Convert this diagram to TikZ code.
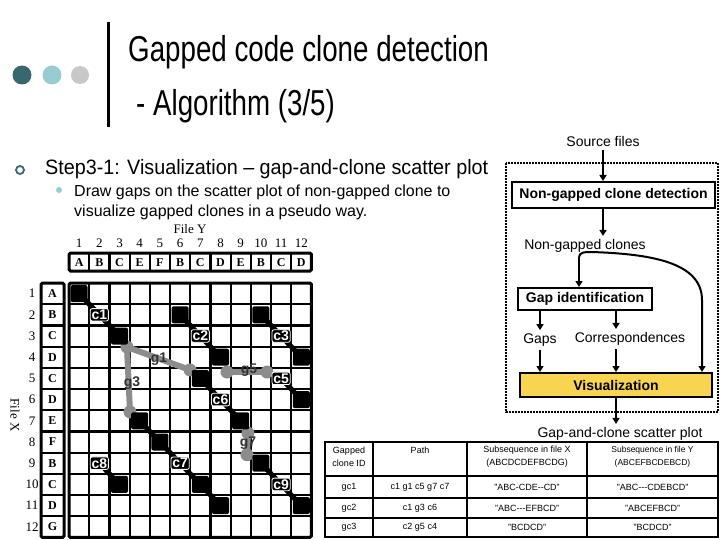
\documentclass[tikz,border=0pt]{standalone}
\usepackage{fontspec}
\setmainfont{Liberation Sans}
\newfontfamily\serifgrid{Liberation Serif}
\newfontfamily\titlefont[FakeStretch=0.77]{Liberation Sans}
\newfontfamily\stepfont[FakeStretch=0.95]{Liberation Sans}
\usetikzlibrary{arrows.meta}
\definecolor{tealdark}{RGB}{56,104,110}
\definecolor{teallight}{RGB}{152,204,210}
\definecolor{dotgray}{RGB}{200,200,200}
\definecolor{gapgray}{RGB}{140,140,140}
\definecolor{visyellow}{RGB}{248,212,80}
\pgfdeclarelayer{gridlayer}
\pgfdeclarelayer{linklayer}
\pgfsetlayers{gridlayer,linklayer,main}

\tikzset{
  gridline/.style={line width=2.2pt},
  gridframe/.style={line width=3pt, rounded corners=1.5pt},
  matchsq/.style={rectangle, fill=black, rounded corners=2pt, minimum size=17pt, inner sep=0pt},
  clonelink/.style={line width=5pt},
  clonelbl/.style={rectangle, fill=black, draw=white, line width=0.8pt, rounded corners=2pt, text=white, font=\bfseries\fontsize{14}{14}\selectfont, inner sep=1.3pt},
  gaplink/.style={gapgray, line width=6pt, line cap=round},
  gaplbl/.style={text=black!80, font=\bfseries\fontsize{14}{14}\selectfont, inner sep=0pt},
  gridtxt/.style={font=\serifgrid\bfseries\fontsize{12}{12}\selectfont},
  gridnum/.style={font=\serifgrid\fontsize{13}{13}\selectfont},
  procbox/.style={rectangle, draw, line width=2pt, font=\bfseries\fontsize{14}{14}\selectfont, inner sep=0pt},
  flowtxt/.style={font=\fontsize{14}{14}\selectfont},
  flowarr/.style={line width=2pt, -{Triangle[length=6pt,width=7pt]}},
  tbltxt/.style={font=\fontsize{9}{13}\selectfont, align=center},
}

\begin{document}
\begin{tikzpicture}[x=1pt, y=-1pt]
\useasboundingbox (0,0) rectangle (720,540);

% title
\fill[tealdark] (22,75) circle (9.5pt);
\fill[teallight] (52,75) circle (9.5pt);
\fill[dotgray] (80,75) circle (9pt);
\draw[line width=3pt] (108,22) -- (108,127);
\node[anchor=base west, font=\titlefont\fontsize{36}{40}\selectfont, inner sep=0pt] (title1) at (128,62) {Gapped code clone detection};
\node[anchor=base west, font=\titlefont\fontsize{36}{40}\selectfont, inner sep=0pt] (title2) at (136,116) {- Algorithm (3/5)};

% bullets
\draw[tealdark, line width=1.8pt] (20,170) circle (4pt);
\node[anchor=base west, font=\stepfont\fontsize{20.8}{22}\selectfont, inner sep=0pt] (step) at (45,174.5) {Step3-1: Visualization – gap-and-clone scatter plot};
\fill[teallight] (59,190) circle (3pt);
\node[anchor=base west, font=\fontsize{16}{18}\selectfont, inner sep=0pt] (sub1) at (74,196.5) {Draw gaps on the scatter plot of non-gapped clone to};
\node[anchor=base west, font=\fontsize{16}{18}\selectfont, inner sep=0pt] (sub2) at (74,216.5) {visualize gapped clones in a pseudo way.};

% file Y header
\node[gridnum] (fy) at (190,229) {File Y};
\draw[gridframe] (69,253) rectangle (311.4,271);
\foreach \i in {1,...,11}
  \draw[gridline] ({69+20.2*\i},253) -- ({69+20.2*\i},271);
\foreach \ch [count=\i] in {A,B,C,E,F,B,C,D,E,B,C,D}
  \node[gridtxt] (hy\i) at ({58.9+20.2*\i},262.5) {\ch};
\foreach \i in {1,...,12}
  \node[gridnum] (ny\i) at ({58.9+20.2*\i},243) {\i};

% file X header
\node[gridnum, rotate=-90] (fx) at (15,415) {File X};
\draw[gridframe] (41,283) rectangle (64,537.4);
\foreach \j in {1,...,11}
  \draw[gridline] (41,{283+21.2*\j}) -- (64,{283+21.2*\j});
\foreach \ch [count=\j] in {A,B,C,D,C,D,E,F,B,C,D,G}
  \node[gridtxt] (hx\j) at (52.5,{272.4+21.2*\j}) {\ch};
\foreach \j in {1,...,12}
  \node[gridnum] (nx\j) at (32,{272.4+21.2*\j}) {\j};

% scatter plot
\begin{scope}[shift={(69,283)}, x=20.2pt, y=-21.2pt]
  \begin{pgfonlayer}{gridlayer}
    \foreach \i in {1,...,11} {
      \draw[gridline] (\i,0) -- (\i,12);
      \draw[gridline] (0,\i) -- (12,\i);
    }
    \draw[gridframe] (0,0) rectangle (12,12);
  \end{pgfonlayer}

  % matches
  \foreach \c/\r in {1/1,3/3,6/2,8/4,10/2,12/4,12/6,7/5,9/7,4/7,5/8,7/10,8/11,3/10,10/9,12/11}
    \node[matchsq] (s\c-\r) at (\c-0.5,\r-0.5) {};
  \foreach \n/\c/\r in {c1/2/2,c2/7/3,c3/11/3,c5/11/5,c6/8/6,c7/6/9,c8/2/9,c9/11/10}
    \node[clonelbl] (\n) at (\c-0.5,\r-0.5) {\n};

  % gap ends
  \coordinate (g1a) at (2.87,3.02);
  \coordinate (g1b) at (5.99,4.1);
  \coordinate (g3b) at (3.02,6.08);
  \coordinate (g5a) at (7.82,4.2);
  \coordinate (g5b) at (9.8,4.2);
  \coordinate (g7a) at (8.86,7.08);
  \coordinate (g7b) at (8.81,8.1);

  \begin{pgfonlayer}{linklayer}
    \draw[clonelink] (s1-1.center) -- (c1.center) -- (s3-3.center);
    \draw[clonelink] (s6-2.center) -- (c2.center) -- (s8-4.center);
    \draw[clonelink] (s10-2.center) -- (c3.center) -- (s12-4.center);
    \draw[clonelink] (c5.center) -- (s12-6.center);
    \draw[clonelink] (s7-5.center) -- (c6.center) -- (s9-7.center);
    \draw[clonelink] (s4-7.center) -- (s5-8.center) -- (c7.center) -- (s7-10.center) -- (s8-11.center);
    \draw[clonelink] (c8.center) -- (s3-10.center);
    \draw[clonelink] (s10-9.center) -- (c9.center) -- (s12-11.center);
    \draw[gaplink] (g1a) -- (g1b);
    \draw[gaplink] (g1a) -- (g3b);
    \draw[gaplink] (g5a) -- (g5b);
    \draw[gaplink] (g7a) -- (g7b);
    \foreach \p in {g1a,g1b,g3b,g5a,g5b,g7a,g7b}
      \fill[gapgray] (\p) circle (6.5pt);
  \end{pgfonlayer}

  \node[gaplbl] (g1) at (4.46,3.58) {g1};
  \node[gaplbl] (g3) at (3.12,4.72) {g3};
  \node[gaplbl] (g5) at (8.91,4.1) {g5};
  \node[gaplbl] (g7) at (8.86,7.55) {g7};
\end{scope}

% flow
\draw[line width=2.5pt, dash pattern=on 1.8pt off 1.2pt] (506,163) rectangle (718,412);
\node[flowtxt] (src) at (603,141) {Source files};
\node[procbox, fill=white, minimum width=203pt, minimum height=26pt] (ngd) at (613.5,195) {Non-gapped clone detection};
\node[flowtxt] (ngc) at (585,246) {Non-gapped clones};
\node[procbox, minimum width=134pt, minimum height=22pt] (gid) at (585,299) {Gap identification};
\node[flowtxt] (gaps) at (540,340) {Gaps};
\node[flowtxt] (corr) at (630,339) {Correspondences};
\node[procbox, fill=visyellow, minimum width=192pt, minimum height=24pt] (vis) at (616,385) {Visualization};
\node[flowtxt] (out) at (620,434) {Gap-and-clone scatter plot};
\coordinate (br) at (579,257);
\coordinate (rt) at (702,300);

\draw[flowarr] (src.south) -- (src.south |- ngd.north);
\draw[flowarr] (ngd.south -| src.south) -- (ngc.north -| src.south);
\draw[flowarr] (br) -- (br |- gid.north);
\draw[flowarr] (br) .. controls (580,252) and (584,252) .. (592,252) .. controls (650,254) and (702,262) .. (rt) -- (rt |- vis.north);
\draw[flowarr] (gid.south -| gaps) -- (gaps.north);
\draw[flowarr] (gaps.south) -- (gaps.south |- vis.north);
\draw[flowarr] (gid.south -| vis.north) -- (corr.north -| vis.north);
\draw[flowarr] (corr.south -| vis.north) -- (vis.north);
\draw[flowarr] (vis.south) -- (out.north -| vis.south);

% table
\fill[white] (325,442) rectangle (718,537);
\draw[line width=2pt] (325,442) rectangle (718,537);
\foreach \yy in {476,498,518}
  \draw[line width=1.5pt] (325,\yy) -- (718,\yy);
\foreach \xx in {373,467,587}
  \draw[line width=1.5pt] (\xx,442) -- (\xx,537);
\node[tbltxt] (th1) at (349,457) {Gapped\\clone ID};
\node[tbltxt] (th2) at (420,450) {Path};
\node[tbltxt] (th3) at (527,457) {Subsequence in file X\\(ABCDCDEFBCDG)};
\node[tbltxt, font=\fontsize{8.5}{13}\selectfont] (th4) at (652.5,457) {Subsequence in file Y\\(ABCEFBCDEBCD)};
\foreach \id/\pth/\sx/\sy [count=\k] in {gc1/c1 g1 c5 g7 c7/"ABC-CDE-{}-CD"/"ABC-{}-{}-CDEBCD",
    gc2/c1 g3 c6/"ABC-{}-{}-EFBCD"/"ABCEFBCD",
    gc3/c2 g5 c4/"BCDCD"/"BCDCD"} {
  \pgfmathsetmacro{\ty}{{487,508,527.5}[\k-1]}
  \node[tbltxt] (tid\k) at (349,\ty) {\id};
  \node[tbltxt] (tpa\k) at (420,\ty) {\pth};
  \node[tbltxt] (tsx\k) at (527,\ty) {\sx};
  \node[tbltxt] (tsy\k) at (652.5,\ty) {\sy};
}
\end{tikzpicture}
\end{document}
